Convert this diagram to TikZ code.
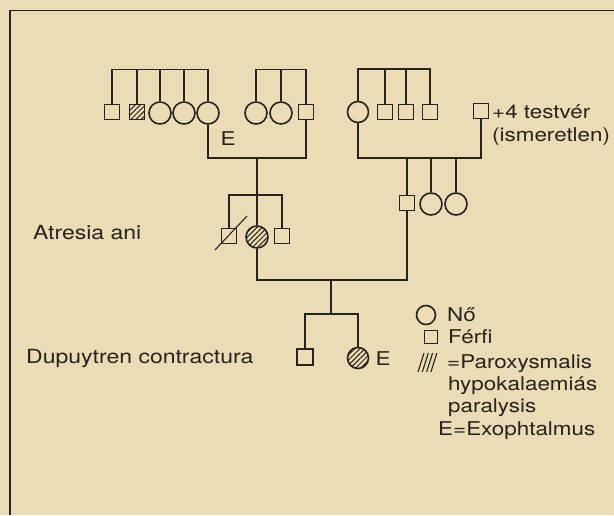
\documentclass[tikz,border=0pt]{standalone}
\usepackage{fontspec}
\setmainfont{TeX Gyre Heros}[FakeStretch=1.18]
\usetikzlibrary{patterns.meta,calc}
\definecolor{bg}{RGB}{236,220,182}
\definecolor{ink}{RGB}{38,34,30}
\begin{document}
\begin{tikzpicture}[x=1pt,y=-1pt,
  sq/.style={draw=ink, line width=1.6pt, fill=bg, rectangle, minimum size=15pt, inner sep=0pt},
  fc/.style={draw=ink, line width=1.6pt, fill=bg, circle, minimum size=22pt, inner sep=0pt},
  hatch/.style={pattern={Lines[angle=45,distance=3.6pt,line width=1pt]}, pattern color=ink},
  link/.style={draw=ink, line width=1.6pt},
  lbl/.style={text=ink, font=\fontsize{19}{23}\selectfont, inner sep=0pt},
  biglbl/.style={text=ink, font=\fontsize{19.5}{23}\selectfont, inner sep=0pt}]
\fill[bg] (0,0) rectangle (614,515);
\useasboundingbox (0,0) rectangle (614,515);
% frame
\coordinate (fTR) at (614,10.5);
\coordinate (fTL) at (10,10.5);
\coordinate (fBL) at (10,515);
\draw[ink, line width=1.6pt] (fTR) -- (fTL) -- (fBL);

% generation I, family A
\node[sq] (a1) at (112,112) {};
\node[sq, hatch] (a2) at (137,112) {};
\node[fc] (a3) at (160,113) {};
\node[fc] (a4) at (184,113) {};
\node[fc] (a5) at (208,113) {};
\coordinate (sibA) at (160,69.5);
\draw[link] (a1.north) |- (sibA) -| (a5.north);
\draw[link] (a2.north) -- (a2.north |- sibA);
\draw[link] (a3.north) -- (a3.north |- sibA);
\draw[link] (a4.north) -- (a4.north |- sibA);

% generation I, family B
\node[fc] (b1) at (256,113) {};
\node[fc] (b2) at (281,113) {};
\node[sq] (b3) at (306,112) {};
\coordinate (sibB) at (280,69.5);
\draw[link] (b1.north) |- (sibB) -| (b3.north);
\draw[link] (b2.north) -- (b2.north |- sibB);

% marriage A x B
\coordinate (mAB) at (256,158);
\draw[link] (a5.south) |- (mAB) -| (b3.south);
\node[lbl] (eA) at (228,139) {E};

% generation I, family C
\node[fc, minimum size=21pt] (c1) at (358,112) {};
\node[sq] (c2) at (385,112) {};
\node[sq] (c3) at (406,112) {};
\node[sq] (c4) at (430,112) {};
\coordinate (sibC) at (400,69);
\draw[link] (c1.north) |- (sibC) -| (c4.north);
\draw[link] (c2.north) -- (c2.north |- sibC);
\draw[link] (c3.north) -- (c3.north |- sibC);

\node[sq] (d1) at (481,111) {};
\node[lbl, anchor=base west] (dt1) at (492,118) {+4 testvér};
\node[lbl, anchor=base west] (dt2) at (492,141) {(ismeretlen)};

% marriage C x D
\coordinate (mCD) at (420,158);
\draw[link] (c1.south) |- (mCD) -| (d1.south);

% generation II right
\node[sq] (e1) at (407,203) {};
\node[fc] (e2) at (431,204) {};
\node[fc] (e3) at (456,204) {};
\draw[link] (e1.north) -- (e1.north |- mCD);
\draw[link] (e2.north) -- (e2.north |- mCD);
\draw[link] (e3.north) -- (e3.north |- mCD);

% generation II left
\node[sq] (g1) at (229,236) {};
\node[fc, hatch] (g2) at (257,237) {};
\node[sq] (g3) at (282,236) {};
\coordinate (sibG) at (257,195);
\draw[link] (mAB) -| (g2.north);
\draw[link] (g1.north) |- (sibG) -| (g3.north);
\coordinate (x1) at ($(g1.center)+(-14,14)$);
\coordinate (x2) at ($(g1.center)+(18,-20)$);
\draw[ink, line width=1.1pt] (x1) -- (x2);
\node[biglbl, anchor=base west] (atr) at (33,239) {Atresia ani};

% marriage II
\coordinate (mII) at (331,280);
\draw[link] (g2.south) |- (mII) -| (e1.south);

% generation III
\coordinate (sibH) at (331,314);
\node[sq, minimum size=15.5pt] (h1) at (305,357) {};
\node[fc, hatch, minimum size=21pt] (h2) at (358,358) {};
\draw[link] (mII) -- (sibH);
\draw[link] (h1.north) |- (sibH) -| (h2.north);
\node[lbl] (eH) at (383,359) {E};
\node[biglbl, anchor=base west] (dup) at (26,363) {Dupuytren contractura};

% legend
\node[fc, minimum size=19pt] (lc) at (426,315) {};
\node[lbl, anchor=base west] (ln) at (447,321) {Nő};
\node[sq, minimum size=13pt] (ls) at (431,337) {};
\node[lbl, anchor=base west] (lf) at (448,343) {Férfi};
\foreach \i in {0,...,3}
  \draw[ink, line width=1.1pt] (418+4.3*\i,372) -- ++(6,-19);
\node[lbl, anchor=base west] (lp1) at (447,368) {=Paroxysmalis};
\node[lbl, anchor=base west] (lp2) at (448,390) {hypokalaemiás};
\node[lbl, anchor=base west] (lp3) at (448,412) {paralysis};
\node[lbl, anchor=base west] (le) at (438,435) {E=Exophtalmus};
\end{tikzpicture}
\end{document}
